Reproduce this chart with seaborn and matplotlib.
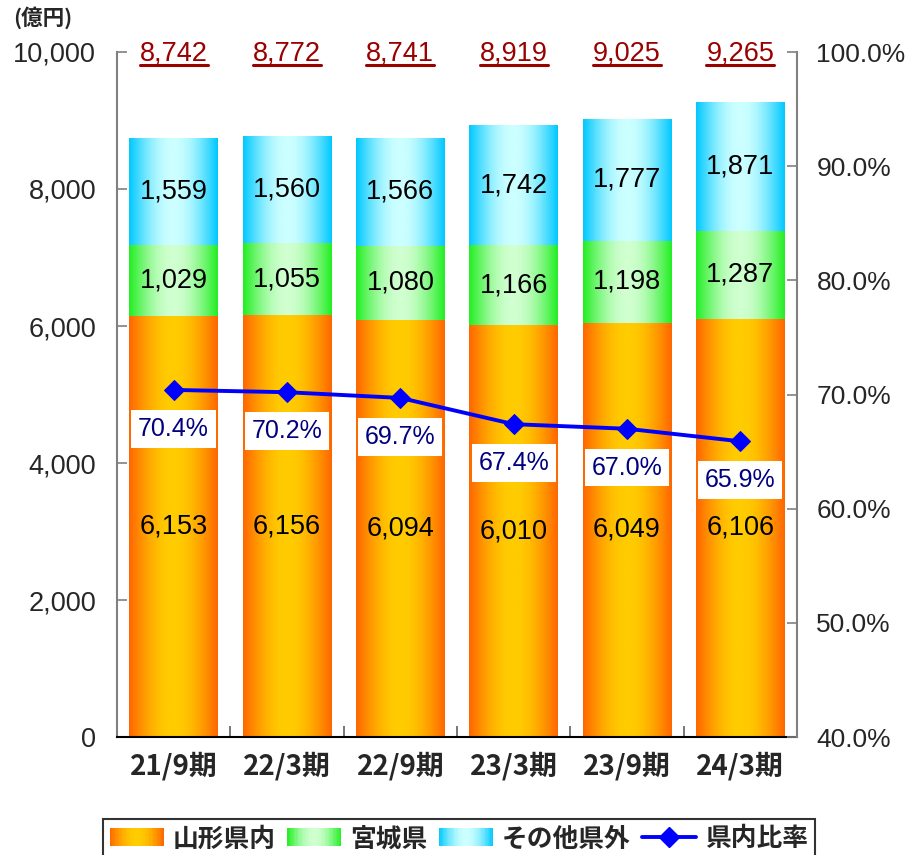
import numpy as np
import pandas as pd
import matplotlib
matplotlib.use('Agg')
import matplotlib.pyplot as plt
import seaborn as sns
from matplotlib.colors import LinearSegmentedColormap
from matplotlib.patches import Rectangle
from matplotlib.lines import Line2D
from matplotlib.legend_handler import HandlerBase
from matplotlib.ticker import FuncFormatter, FixedLocator
from matplotlib.font_manager import FontProperties

# ---- data ----
periods = ['21/9期', '22/3期', '22/9期', '23/3期', '23/9期', '24/3期']
yamagata = [6153, 6156, 6094, 6010, 6049, 6106]
miyagi = [1029, 1055, 1080, 1166, 1198, 1287]
other = [1559, 1560, 1566, 1742, 1777, 1871]
totals = [8742, 8772, 8741, 8919, 9025, 9265]
ratio = [70.4, 70.2, 69.7, 67.4, 67.0, 65.9]
series_names = ['山形県内', '宮城県', 'その他県外']
ratio_name = '県内比率'
unit_label = '(億円)'

# ---- style ----
edge_colors = ['#FF6600', '#22EE22', '#00C8FF']
center_colors = ['#FFCC00', '#D0FFD0', '#CCFFFF']
NUM_FS = 19.5

sns.set_style('white')
plt.rcParams['font.family'] = ['Liberation Sans', 'Noto Sans CJK JP', 'DejaVu Sans']
cjk_bold = FontProperties(family=['Noto Sans CJK JP', 'DejaVu Sans'], weight='bold', size=20)

fig = plt.figure(figsize=(9.07, 8.55), dpi=100)
ax = fig.add_axes([117/907, 1-737/855, (797-117)/907, (737-52)/855])

layers = [yamagata, miyagi, other]
cum = np.cumsum(np.array(layers), axis=0)
bar_w = 0.78
patch_groups = {}
for li in reversed(range(3)):
    n0 = len(ax.patches)
    sns.barplot(x=periods, y=cum[li], order=periods, width=bar_w,
                color=center_colors[li], saturation=1, errorbar=None,
                edgecolor='none', ax=ax, zorder=1)
    patch_groups[li] = list(ax.patches[n0:])

tt = np.linspace(0, 1, 256)
prof = np.sin(np.pi * tt)
for li in range(3):
    cmap = LinearSegmentedColormap.from_list(f'g{li}', [edge_colors[li], center_colors[li]])
    for j, p in enumerate(patch_groups[li]):
        x0 = p.get_x(); w = p.get_width()
        top = p.get_y() + p.get_height()
        bottom = cum[li - 1][j] if li > 0 else 0
        ax.imshow(prof[np.newaxis, :], cmap=cmap, vmin=0, vmax=1, aspect='auto',
                  extent=(x0, x0 + w, bottom, top), interpolation='bilinear', zorder=2)

for li in range(3):
    for j in range(len(periods)):
        mid = cum[li][j] - layers[li][j] / 2
        ax.text(j, mid, f'{layers[li][j]:,}', ha='center', va='center',
                fontsize=NUM_FS, color='black', zorder=5)

total_texts = []
for j in range(len(periods)):
    total_texts.append(ax.text(j, 9980, f'{totals[j]:,}', ha='center', va='center',
                               fontsize=NUM_FS, color='#990000', zorder=5))

ax.set_xlim(-0.5, len(periods) - 0.5)
ax.set_ylim(0, 10000)
ax.set_yticks(range(0, 10001, 2000))
ax.yaxis.set_major_formatter(FuncFormatter(lambda v, p: f'{v:,.0f}'))
ax.set_xticks(range(len(periods)))
ax.set_xticklabels(periods, fontproperties=cjk_bold)
ax.xaxis.set_minor_locator(FixedLocator(np.arange(0.5, len(periods) - 0.5, 1)))
ax.tick_params(axis='x', which='major', length=0, pad=11, bottom=True)
ax.tick_params(axis='x', which='minor', direction='in', length=8, color='#606060', width=1.2, bottom=True)
ax.tick_params(axis='y', direction='in', length=7, color='#808080', width=1.2,
               labelsize=NUM_FS, pad=15, left=True)
ax.set_xlabel(''); ax.set_ylabel('')
for s in ['top', 'right']:
    ax.spines[s].set_visible(False)
ax.spines['left'].set_color('#808080'); ax.spines['left'].set_linewidth(1.5)
ax.spines['bottom'].set_color('black'); ax.spines['bottom'].set_linewidth(1.5)

ax2 = ax.twinx()
sns.lineplot(x=np.arange(len(periods)), y=ratio, ax=ax2, color='#0000FF', lw=2.8,
             marker='D', markersize=10.5, markeredgecolor='#0000FF', zorder=3)
ax2.set_ylim(40, 100)
ax2.set_yticks(range(40, 101, 10))
ax2.yaxis.set_major_formatter(FuncFormatter(lambda v, p: f'{v:.1f}%'))
ax2.tick_params(axis='y', direction='in', length=7, color='#808080', width=1.2,
                labelsize=19, pad=14, right=True)
ax2.set_xlabel(''); ax2.set_ylabel('')
for s in ['top', 'left', 'bottom']:
    ax2.spines[s].set_visible(False)
ax2.spines['right'].set_color('#808080'); ax2.spines['right'].set_linewidth(1.5)

for j, r in enumerate(ratio):
    ax2.annotate(f'{r:.1f}%', (j, r), xytext=(0, -28), textcoords='offset points',
                 ha='center', va='center', fontsize=18, color='#000080', zorder=6,
                 bbox=dict(boxstyle='square,pad=0.27', fc='white', ec='none'))

fig.text(13/907, 1-18/855, unit_label, ha='left', va='center', fontproperties=
         FontProperties(family=['Noto Sans CJK JP'], weight='bold', size=15.5))


class HandlerGrad(HandlerBase):
    def __init__(self, edge, center, n=40):
        super().__init__()
        self.cmap = LinearSegmentedColormap.from_list('h', [edge, center])
        self.n = n

    def create_artists(self, legend, orig_handle, xdescent, ydescent, width, height, fontsize, trans):
        arts = []
        for k in range(self.n):
            v = np.sin(np.pi * (k + 0.5) / self.n)
            arts.append(Rectangle((-xdescent + k * width / self.n, -ydescent), width / self.n * 1.1,
                                  height, facecolor=self.cmap(v), edgecolor='none', lw=0,
                                  transform=trans))
        return arts


handles = [Rectangle((0, 0), 1, 1) for _ in range(3)]
hmap = {h: HandlerGrad(edge_colors[i], center_colors[i]) for i, h in enumerate(handles)}
line_h = Line2D([], [], color='#0000FF', lw=2.8, marker='D', markersize=10.5)
leg = fig.legend(handles + [line_h], series_names + [ratio_name], loc='upper center',
                 bbox_to_anchor=(459/907, 1-819/855), ncol=4, frameon=True, fancybox=False,
                 edgecolor='black', prop=FontProperties(family=['Noto Sans CJK JP'], weight='bold', size=18.5),
                 handlelength=2.1, handletextpad=0.35, columnspacing=0.45, borderpad=0.25,
                 borderaxespad=0, handler_map=hmap)
leg.get_frame().set_linewidth(1.5)

fig.canvas.draw()
rend = fig.canvas.get_renderer()
inv = fig.transFigure.inverted()
for t in total_texts:
    bb = t.get_window_extent(rend)
    yy = bb.y0 + 1
    (xa, ya), (xb, _) = inv.transform([(bb.x0, yy), (bb.x1, yy)])
    fig.add_artist(Line2D([xa, xb], [ya, ya], color='#990000', lw=2.2))

fig.savefig('out.png', dpi=100)
